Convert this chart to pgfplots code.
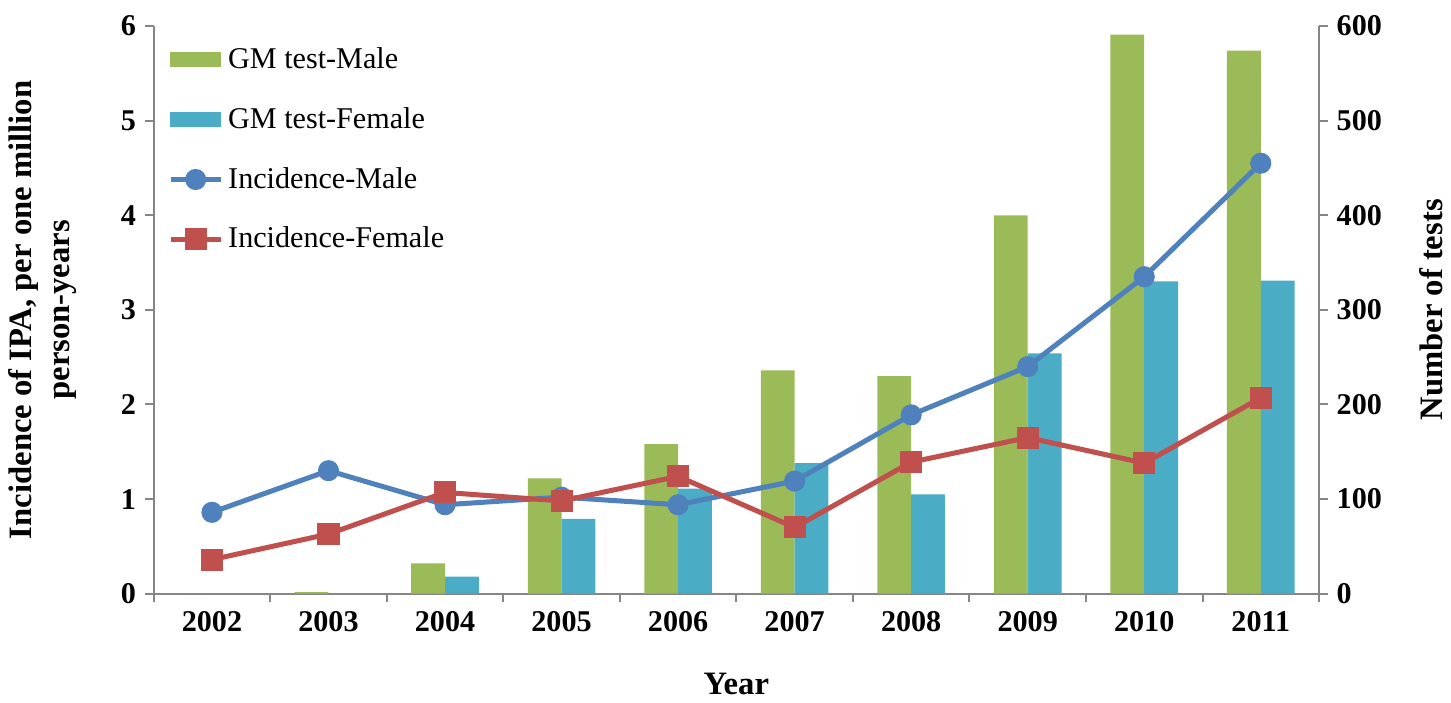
\documentclass[border=0pt]{standalone}
\usepackage{fontspec}
\setmainfont{Liberation Serif}
\usepackage{pgfplots}
\pgfplotsset{compat=1.18}
\definecolor{gmmale}{HTML}{9BBB59}
\definecolor{gmfemale}{HTML}{4BACC6}
\definecolor{incmale}{HTML}{4F81BD}
\definecolor{incfemale}{HTML}{C0504D}
\definecolor{axisgray}{RGB}{134,134,134}

\pgfplotsset{
  common/.style={
    scale only axis, width=464pt, height=226pt,
    xmin=-0.5, xmax=9.5,
    axis line style={draw=axisgray, line width=0.8pt},
    tick style={draw=axisgray, line width=0.8pt},
    tick align=outside,
    major tick length=3.5pt, minor tick length=3.5pt,
    /pgf/number format/assume math mode=true,
    ticklabel style={font=\fontsize{12}{14}\selectfont\bfseries},
    label style={font=\fontsize{13}{15}\selectfont\bfseries},
  },
  barimg/.style={legend image code/.code={\fill[#1] (0cm,-0.1cm) rectangle (0.7cm,0.1cm);}},
  lineimg/.style={legend image code/.code={\draw[mark repeat=2,mark phase=2] plot coordinates {(0cm,0cm) (0.35cm,0cm) (0.7cm,0cm)};}},
}

\begin{document}
\begin{tikzpicture}
% bars on the secondary (right) axis
\begin{axis}[
  common,
  ymin=0, ymax=600,
  axis x line*=bottom, axis y line*=right,
  xtick={0,...,9},
  xticklabels={2002,2003,2004,2005,2006,2007,2008,2009,2010,2011},
  major x tick style={draw=none},
  minor xtick={-0.5,0.5,...,9.5},
  ytick={0,100,...,600},
  xlabel={Year},
  ylabel={Number of tests},
  xlabel style={yshift=-9.5pt},
  ylabel style={yshift=-8pt},
]
\addplot[ybar, bar width=0.29, bar shift=-0.145, fill=gmmale, draw=none] coordinates {
  (0,0) (1,1.5) (2,32) (3,122) (4,158) (5,236) (6,230) (7,400) (8,591) (9,574)
};
\addplot[ybar, bar width=0.29, bar shift=0.145, fill=gmfemale, draw=none] coordinates {
  (0,0) (1,0) (2,18) (3,79) (4,111) (5,138) (6,105) (7,254) (8,330) (9,331)
};
\end{axis}
% incidence lines on the primary (left) axis
\begin{axis}[
  common,
  ymin=0, ymax=6,
  axis x line=none, axis y line*=left,
  ytick={0,...,6},
  ylabel={Incidence of IPA, per one million\\person-years},
  ylabel style={align=center, yshift=11pt},
  legend style={draw=none, fill=none, at={(0.012,0.972)}, anchor=north west,
    font=\fontsize{12}{14}\selectfont, row sep=10pt, cells={anchor=west},
    inner sep=0pt},
]
\addlegendimage{barimg=gmmale}
\addlegendentry{GM test-Male}
\addlegendimage{barimg=gmfemale}
\addlegendentry{GM test-Female}
\addplot[incmale, line width=2pt, mark=*, mark size=4pt, mark options={line width=0.4pt}, lineimg] coordinates {
  (0,0.86) (1,1.30) (2,0.94) (3,1.02) (4,0.94) (5,1.19) (6,1.89) (7,2.40) (8,3.35) (9,4.55)
};
\addlegendentry{Incidence-Male}
\addplot[incfemale, line width=2pt, mark=square*, mark size=4.2pt, mark options={line width=0.4pt}, lineimg] coordinates {
  (0,0.36) (1,0.63) (2,1.07) (3,0.98) (4,1.24) (5,0.70) (6,1.39) (7,1.65) (8,1.38) (9,2.07)
};
\addlegendentry{Incidence-Female}
\end{axis}
% a little white space above the top tick labels, as in the reference
\path ([yshift=3pt]current bounding box.north);
\end{tikzpicture}
\end{document}
